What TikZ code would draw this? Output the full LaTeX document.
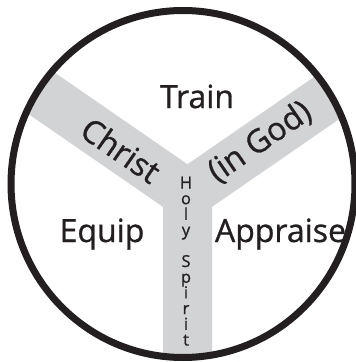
\documentclass[tikz,border=0pt]{standalone}
\usepackage{fontspec}
\setmainfont{Open Sans}
\newfontfamily\heavyfont[FakeBold=0.9]{Open Sans}
\usetikzlibrary{calc}
\definecolor{ink}{RGB}{35,31,32}
\definecolor{band}{RGB}{209,211,212}
\begin{document}
\begin{tikzpicture}[x=1pt,y=1pt,
  lbl/.style={text=ink, inner sep=0pt, font=\heavyfont\fontsize{32}{38}\selectfont},
  hsletter/.style={text=ink, inner sep=0pt, anchor=base, font=\heavyfont\fontsize{16.5}{18}\selectfont}]
\useasboundingbox (0,0) rectangle (356,-362);
\coordinate (C) at (183,-184);
\coordinate (N) at (187.5,-164.23);
\coordinate (L) at (163,-206.87);
\coordinate (R) at (212,-206.87);
\begin{scope}
  \clip (C) ellipse [x radius=172, y radius=173.5];
  \fill[band] (N) -- ($(N)+(145.4:300)$) -- ($(L)+(145.4:300)$) -- (L)
     -- (163,-420) -- (212,-420) -- (R) -- ($(R)+(34.6:300)$)
     -- ($(N)+(34.6:300)$) -- cycle;
\end{scope}
\draw[ink, line width=7pt] (C) ellipse [x radius=172, y radius=173.5];
\node[lbl, anchor=base] (train) at (197,-108) {Train};
\node[lbl, anchor=base] (equip) at (102,-242) {Equip};
\node[lbl, anchor=base] (appraise) at (280.5,-242) {Appraise};
\node[lbl, rotate=-34.6] (christ) at (121,-150) {Christ};
\node[lbl, rotate=34.6] (ingod) at (260,-142) {(in God)};
\foreach \k/\ch in {0/H,1/o,2/l,3/y,5/S,6/p,7/i,8/r,9/i,10/t}
  \node[hsletter] (hs\k) at (186,{-188.5-15.7*\k}) {\ch};
\end{tikzpicture}
\end{document}
